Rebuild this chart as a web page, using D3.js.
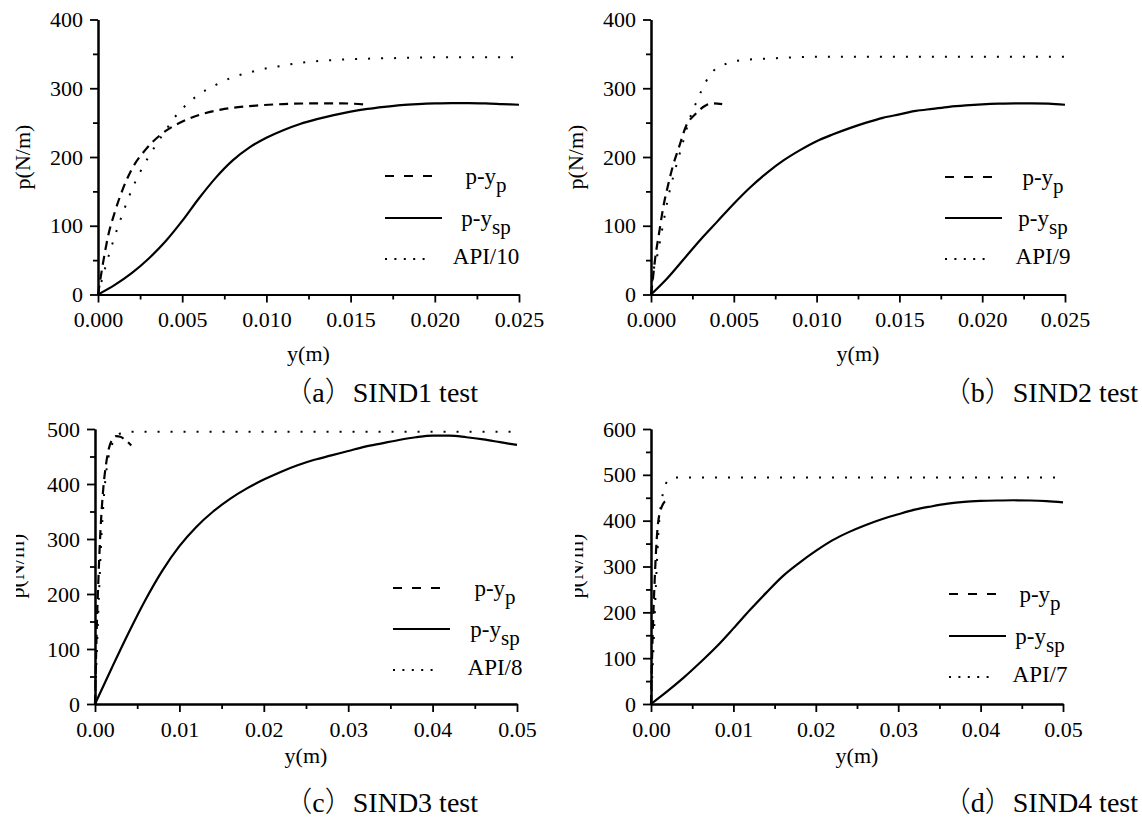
<!DOCTYPE html>
<html><head><meta charset="utf-8">
<script src="https://cdn.jsdelivr.net/npm/d3@7"></script>
</head>
<body>
<svg id="chart" width="1142" height="819" font-family="Liberation Serif"></svg>
<script>
// ---------------- DATA ----------------
// Panel (a) SIND1 test  [y(m), p(N/m)]
const sind1_pyp = [[0,0],[0.0003,46],[0.0006,85],[0.001,120],[0.0015,155],[0.002,182],[0.0028,210],[0.0037,232],[0.0048,249],[0.006,261],[0.0073,269],[0.009,274],[0.011,277],[0.013,278],[0.0145,278],[0.016,276]];
const sind1_pysp = [[0,0],[0.001,14],[0.002,31],[0.003,52],[0.004,77],[0.005,107],[0.006,140],[0.007,170],[0.008,195],[0.009,214],[0.010,228],[0.011,239],[0.012,248],[0.013,255],[0.014,261],[0.015,266],[0.016,270],[0.017,273],[0.018,275.5],[0.019,277],[0.020,278],[0.021,278.5],[0.022,278.5],[0.023,278],[0.024,277],[0.025,276]];
const sind1_api = [[0,0],[0.0005,45],[0.001,85],[0.0015,120],[0.002,152],[0.0025,178],[0.003,200],[0.0035,220],[0.004,238],[0.0045,256],[0.005,270],[0.006,291],[0.007,305],[0.008,316],[0.009,323],[0.010,329],[0.011,333],[0.012,337],[0.014,341],[0.016,343],[0.018,344],[0.020,345],[0.025,345]];
// Panel (b) SIND2 test
const sind2_pyp = [[0,0],[0.0001,20],[0.00026,54],[0.00048,88],[0.00074,127],[0.001,156],[0.0013,185],[0.0017,215],[0.0021,244],[0.0027,263],[0.0033,275],[0.0037,278],[0.0043,277]];
const sind2_pysp = [[0,0],[0.001,24],[0.002,52],[0.003,80],[0.004,106],[0.005,132],[0.006,156],[0.007,177],[0.008,195],[0.009,210],[0.010,223],[0.011,233],[0.012,242],[0.013,250],[0.014,257],[0.015,262],[0.016,267],[0.017,270],[0.018,273],[0.019,275],[0.020,276.5],[0.021,277.5],[0.022,278],[0.023,278],[0.024,277.5],[0.025,276]];
const sind2_api = [[0,0],[0.0001,25],[0.0004,59],[0.0007,98],[0.001,137],[0.0015,185],[0.0019,219],[0.0023,253],[0.0028,283],[0.0033,309],[0.0038,326],[0.0046,336],[0.0055,341],[0.007,343],[0.0103,346],[0.025,346]];
// Panel (c) SIND3 test
const sind3_pyp = [[0,0],[0.0001,70],[0.0002,135],[0.0004,225],[0.0006,300],[0.0008,355],[0.001,395],[0.0013,435],[0.0016,462],[0.002,480],[0.0025,487],[0.003,486],[0.0036,480],[0.0043,470]];
const sind3_pysp = [[0,0],[0.002,66],[0.004,130],[0.006,190],[0.008,243],[0.010,287],[0.012,322],[0.014,350],[0.016,373],[0.018,392],[0.020,408],[0.022,422],[0.024,434],[0.026,444],[0.028,452],[0.030,460],[0.032,468],[0.034,474],[0.036,480],[0.038,485],[0.040,488],[0.042,488],[0.044,485],[0.046,481],[0.048,476],[0.050,471]];
const sind3_api = [[0,0],[0.0001,45],[0.0003,130],[0.0005,210],[0.0007,285],[0.0009,340],[0.0011,385],[0.0014,430],[0.0018,462],[0.0022,478],[0.0028,490],[0.0035,494],[0.0045,495],[0.05,495]];
// Panel (d) SIND4 test
const sind4_pyp = [[0,0],[0.0001,80],[0.0002,150],[0.0004,250],[0.0006,330],[0.0008,385],[0.001,412],[0.0013,430],[0.0016,440],[0.0019,443]];
const sind4_pysp = [[0,0],[0.002,28],[0.004,58],[0.006,91],[0.008,126],[0.010,165],[0.012,205],[0.014,243],[0.016,279],[0.018,308],[0.020,334],[0.022,357],[0.024,375],[0.026,390],[0.028,403],[0.030,414],[0.032,424],[0.034,431],[0.036,437],[0.038,441],[0.040,443],[0.042,444],[0.044,444.5],[0.046,444],[0.048,442.5],[0.050,440]];
const sind4_api = [[0,0],[0.0002,80],[0.0004,170],[0.0006,260],[0.0008,340],[0.001,400],[0.0013,445],[0.0016,470],[0.002,487],[0.0025,493],[0.003,494],[0.05,494]];

const captionLetters = ["a","b","c","d"];
const captionTexts = ["SIND1 test","SIND2 test","SIND3 test","SIND4 test"];
const apiLabels = ["API/10","API/9","API/8","API/7"];
const xDomains = [[0,0.025],[0,0.025],[0,0.05],[0,0.05]];
const yDomains = [[0,400],[0,400],[0,500],[0,600]];
const xMajorSteps = [0.005,0.005,0.01,0.01];
const yMajorStep = 100;
const xTickFormats = [".3f",".3f",".2f",".2f"];
const xTitle = "y(m)", yTitle = "p(N/m)";

// ---------------- LAYOUT ----------------
const panels = [
  {pyp:sind1_pyp, pysp:sind1_pysp, api:sind1_api, x0:98, x1:519, yT:19.5, yB:294.5, xt:[308.5,361], yt:[22,157], clipX:null,
   cap:[478,402], leg:{x0:385,x1:442,rows:[176,218,259],tc:486}},
  {pyp:sind2_pyp, pysp:sind2_pysp, api:sind2_api, x0:651, x1:1065, yT:19.5, yB:294.5, xt:[858,361], yt:[575,157], clipX:null,
   cap:[1138,402], leg:{x0:945,x1:1002,rows:[177,218,259],tc:1043}},
  {pyp:sind3_pyp, pysp:sind3_pysp, api:sind3_api, x0:95, x1:517, yT:429, yB:704, xt:[306,763], yt:[16,566], clipX:16,
   cap:[478,812], leg:{x0:393,x1:450,rows:[588,629,670],tc:495}},
  {pyp:sind4_pyp, pysp:sind4_pysp, api:sind4_api, x0:651, x1:1063, yT:429, yB:704, xt:[857,763], yt:[575,566], clipX:575,
   cap:[1138,812], leg:{x0:949,x1:1006,rows:[594,636,677],tc:1040}}
];

document.body.style.margin = "0";
const SERIF = "Liberation Serif";
const svg = d3.select("#chart").style("display", "block");
const defs = svg.append("defs");
const SW = 2.2;
const dashPlot = "9,6", dotPlot = "2,11";
const dashLeg = "9,10", dotLeg = "2,7.4";
function serif(sel, size) {
  return sel.attr("font-family", SERIF).attr("font-size", size);
}

panels.forEach((p, i) => {
  const x = d3.scaleLinear().domain(xDomains[i]).range([p.x0, p.x1]);
  const y = d3.scaleLinear().domain(yDomains[i]).range([p.yB, p.yT]);
  const g = svg.append("g");

  const xs = xMajorSteps[i];
  const xMaj = d3.range(0, xDomains[i][1] + xs/2, xs);
  const xMin = d3.range(xs/2, xDomains[i][1], xs);
  const yMaj = d3.range(0, yDomains[i][1] + 1, yMajorStep);
  const yMin = d3.range(yMajorStep/2, yDomains[i][1], yMajorStep);

  const xMinorAx = d3.axisBottom(x).tickValues(xMin).tickSize(5).tickSizeOuter(0).tickFormat("");
  const yMinorAx = d3.axisLeft(y).tickValues(yMin).tickSize(5).tickSizeOuter(0).tickFormat("");
  g.append("g").attr("transform", `translate(0,${p.yB})`).call(xMinorAx);
  g.append("g").attr("transform", `translate(${p.x0},0)`).call(yMinorAx);
  const xAx = d3.axisBottom(x).tickValues(xMaj).tickSize(8).tickSizeOuter(0).tickPadding(9).tickFormat(d3.format(xTickFormats[i]));
  const yAx = d3.axisLeft(y).tickValues(yMaj).tickSize(8).tickSizeOuter(0).tickPadding(7).tickFormat(d3.format("d"));
  g.append("g").attr("transform", `translate(0,${p.yB})`).call(xAx);
  g.append("g").attr("transform", `translate(${p.x0},0)`).call(yAx);

  g.selectAll("g").attr("font-family", SERIF).attr("font-size", 22);
  g.selectAll(".domain").attr("stroke", "#000").attr("stroke-width", 2);
  g.selectAll(".tick line").attr("stroke", "#000").attr("stroke-width", 1.8);
  serif(g.selectAll(".tick text"), 22).attr("fill", "#000");

  serif(g.append("text").attr("x", p.xt[0]).attr("y", p.xt[1]).attr("text-anchor", "middle"), 22).text(xTitle);
  const yHolder = g.append("g");
  serif(yHolder.append("text").attr("transform", `translate(${p.yt[0]},${p.yt[1]}) rotate(-90)`)
    .attr("text-anchor", "middle").attr("dy", "0.35em"), 22).text(yTitle);
  if (p.clipX !== null) {
    const id = "clip" + i;
    defs.append("clipPath").attr("id", id).append("rect")
      .attr("x", p.clipX).attr("y", p.yT).attr("width", 200).attr("height", p.yB - p.yT);
    yHolder.attr("clip-path", `url(#${id})`);
  }

  const line = d3.line().x(d => x(d[0])).y(d => y(d[1])).curve(d3.curveMonotoneX);
  g.append("path").datum(p.api).attr("d", line).attr("fill", "none").attr("stroke", "#000")
    .attr("stroke-width", 2).attr("stroke-dasharray", dotPlot);
  g.append("path").datum(p.pyp).attr("d", line).attr("fill", "none").attr("stroke", "#000")
    .attr("stroke-width", SW).attr("stroke-dasharray", dashPlot);
  g.append("path").datum(p.pysp).attr("d", line).attr("fill", "none").attr("stroke", "#000")
    .attr("stroke-width", SW);

  const L = p.leg;
  const styles = [dashLeg, null, dotLeg];
  styles.forEach((s, k) => {
    const ln = g.append("line").attr("x1", L.x0).attr("x2", k === 1 ? L.x1 : L.x1 - 10)
      .attr("y1", L.rows[k]).attr("y2", L.rows[k]).attr("stroke", "#000").attr("stroke-width", k === 2 ? 2 : SW);
    if (s) ln.attr("stroke-dasharray", s);
  });
  const t1 = serif(g.append("text").attr("x", L.tc).attr("y", L.rows[0] + 8).attr("text-anchor", "middle"), 23);
  t1.append("tspan").text("p-y");
  t1.append("tspan").attr("dy", 8).attr("font-size", 21).text("p");
  const t2 = serif(g.append("text").attr("x", L.tc).attr("y", L.rows[1] + 8).attr("text-anchor", "middle"), 23);
  t2.append("tspan").text("p-y");
  t2.append("tspan").attr("dy", 8).attr("font-size", 21).text("sp");
  serif(g.append("text").attr("x", L.tc).attr("y", L.rows[2] + 5).attr("text-anchor", "middle"), 23).text(apiLabels[i]);

  // caption with full-width parentheses
  const ct = serif(svg.append("text").attr("x", p.cap[0]).attr("y", p.cap[1]).attr("text-anchor", "end"), 28);
  ct.append("tspan").attr("font-family", "Noto Sans CJK SC").attr("font-weight", 300).text("\uFF08");
  ct.append("tspan").text(captionLetters[i]);
  ct.append("tspan").attr("font-family", "Noto Sans CJK SC").attr("font-weight", 300).text("\uFF09");
  ct.append("tspan").text(captionTexts[i]);
});
</script>
</body></html>
